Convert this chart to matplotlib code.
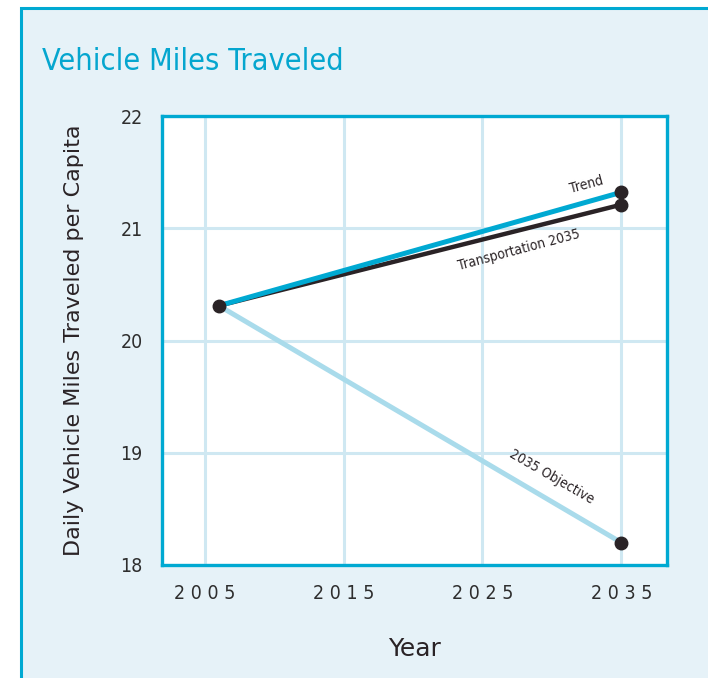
import matplotlib
matplotlib.use("Agg")
import matplotlib.pyplot as plt
from matplotlib.patches import Rectangle

# data
years = [2006, 2035]
trend = [20.31, 21.32]
transport_2035 = [20.31, 21.21]
objective_2035 = [20.31, 18.2]
x_ticks = [2005, 2015, 2025, 2035]
y_ticks = [18, 19, 20, 21, 22]

cyan = "#00a9d2"
dark = "#2a2326"
light = "#a9dbeb"
grid = "#cfe8f2"
panel = "#e6f2f8"
text_col = "#2e2e2e"

plt.rcParams['font.family'] = ['DejaVu Sans']
plt.rcParams['font.stretch'] = 'condensed'

fig = plt.figure(figsize=(7.08, 6.78), dpi=100)
fig.patch.set_facecolor("white")

# light blue panel with border behind everything
fig.patches.append(Rectangle((21 / 708, -0.05), 1.2, 1 - 8 / 678 + 0.05,
                             transform=fig.transFigure, facecolor=panel,
                             edgecolor=cyan, linewidth=2.2, zorder=-5))

fig.text(42 / 708, 1 - 61 / 678, "Vehicle Miles Traveled", color="#05a6cf",
         fontsize=22, va="center", ha="left", zorder=2)

ax = fig.add_axes([162 / 708, 1 - 565 / 678, 505 / 708, 449 / 678])
ax.set_zorder(1)
ax.set_facecolor("white")
ax.set_xlim(2001.9, 2038.3)
ax.set_ylim(18, 22)
ax.set_xticks(x_ticks)
ax.set_yticks(y_ticks)
ax.set_xticklabels([" ".join(str(t)) for t in x_ticks])
ax.tick_params(length=0, labelsize=14, colors=text_col, pad=14)
ax.tick_params(axis="x", pad=14)
ax.grid(True, color=grid, linewidth=2.2)
ax.set_axisbelow(True)
for s in ax.spines.values():
    s.set_color(cyan)
    s.set_linewidth(2.4)

ax.plot(years, objective_2035, color=light, linewidth=3.6, solid_capstyle="butt", zorder=2)
ax.plot(years, transport_2035, color=dark, linewidth=3.2, solid_capstyle="butt", zorder=3)
ax.plot(years, trend, color=cyan, linewidth=3.6, solid_capstyle="butt", zorder=4)

ax.plot(years[:1], trend[:1], "o", color=dark, markersize=9, zorder=5)
ax.plot(years[1:] * 3, [trend[1], transport_2035[1], objective_2035[1]], "o",
        color=dark, markersize=9, zorder=5, clip_on=False)

ax.text(2032.5, 21.39, "Trend", rotation=15, fontsize=10, color=dark,
        ha="center", va="center", zorder=6)
ax.text(2027.6, 20.81, "Transportation 2035", rotation=15, fontsize=10,
        color=dark, ha="center", va="center", zorder=6)
ax.text(2030.0, 18.79, "2035 Objective", rotation=-30, fontsize=10,
        color=dark, ha="center", va="center", zorder=6)

ax.set_ylabel("Daily Vehicle Miles Traveled per Capita", fontsize=16,
              fontstretch="normal", color=dark, labelpad=26)
ax.set_xlabel("Year", fontsize=18, fontstretch="normal", color=dark, labelpad=24)

fig.savefig("out.png", dpi=100)
